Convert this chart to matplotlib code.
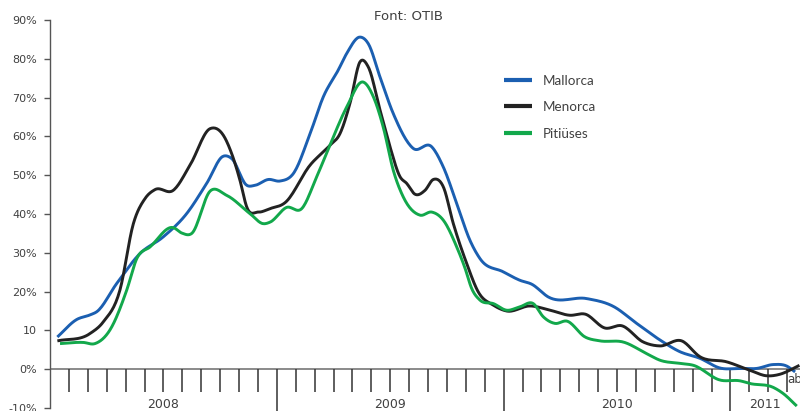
import numpy as np
import matplotlib
matplotlib.use('Agg')
import matplotlib.pyplot as plt

plt.rcParams['font.family'] = ['Lato', 'DejaVu Sans']

# months since January 2008, values in %
mallorca_x = [0.39, 1.41, 2.12, 2.47, 3.53, 4.76, 5.99, 7.23, 8.29, 9.17, 9.61, 10.41, 10.85,
              11.55, 12.17, 12.87, 13.76, 14.46, 15.25, 15.70, 16.40, 16.84, 17.46, 18.16,
              19.22, 20.20, 20.81, 21.52, 22.22, 22.75, 23.98, 24.87, 25.49, 26.37, 28.40,
              29.80, 31.04, 32.28, 33.33, 34.39, 35.45, 36.51, 37.39, 38.27, 38.98, 39.42]
mallorca_y = [8.3, 12.8, 14.0, 14.8, 22.1, 29.8, 34.1, 40.1, 47.9, 54.9, 54.3, 47.4, 47.4,
              48.9, 48.5, 50.4, 60.7, 70.2, 77.1, 81.4, 85.6, 83.9, 75.3, 65.9,
              56.9, 57.3, 52.1, 42.7, 33.2, 28.5, 25.1, 22.9, 21.9, 18.6, 18.2,
              16.2, 11.8, 7.5, 4.5, 2.8, 0.3, 0.2, 0.2, 1.2, 0.8, -0.7]

menorca_x = [0.39, 2.12, 2.82, 3.70, 4.41, 5.03, 5.56, 6.52, 7.41, 8.47, 9.17, 9.61, 10.05,
             10.41, 11.02, 11.64, 12.43, 13.76, 14.81, 15.34, 15.87, 16.40, 16.84, 17.46,
             17.99, 18.52, 18.87, 19.31, 19.84, 20.28, 20.81, 21.34, 22.05, 22.66, 23.46,
             24.16, 25.40, 26.46, 27.51, 28.31, 29.37, 30.25, 31.39, 32.28, 33.42, 34.39,
             35.80, 37.04, 37.92, 38.62, 39.33, 39.65]
menorca_y = [7.3, 9.2, 12.2, 20.4, 37.5, 44.0, 46.3, 46.1, 52.6, 62.0, 60.3, 55.6, 48.7,
             41.8, 40.5, 41.4, 42.9, 52.6, 57.7, 60.7, 68.5, 79.2, 77.9, 66.8,
             57.3, 49.6, 47.9, 45.1, 46.1, 48.9, 47.0, 37.5, 27.2, 19.9, 16.5,
             15.0, 16.3, 15.2, 13.9, 14.2, 10.6, 11.2, 7.0, 6.0, 7.3, 3.2,
             1.9, -0.3, -1.7, -1.3, 0.2, 1.0]

pitiuses_x = [0.53, 1.76, 2.38, 3.17, 4.06, 4.59, 5.29, 6.52, 6.97, 7.50, 8.47, 9.35, 10.58,
              11.29, 11.64, 12.52, 13.32, 14.11, 14.99, 15.70, 16.58, 17.11, 17.63, 18.16,
              18.69, 19.58, 20.20, 20.81, 21.52, 21.96, 22.31, 22.75, 23.46, 24.16, 24.87,
              25.57, 26.10, 26.72, 27.34, 28.31, 29.10, 30.33, 31.57, 32.28, 33.33, 34.04,
              35.45, 36.51, 37.04, 38.27, 38.80, 39.51]
pitiuses_y = [6.6, 6.9, 6.6, 10.1, 20.4, 28.5, 31.5, 36.5, 35.1, 35.0, 45.9, 44.8, 40.1,
              37.5, 37.9, 41.7, 41.4, 49.6, 59.9, 67.6, 74.0, 70.2, 62.4, 51.3,
              44.4, 39.7, 40.5, 38.4, 31.5, 26.0, 20.8, 17.8, 16.9, 15.2, 16.1,
              16.9, 13.5, 11.8, 12.4, 8.3, 7.3, 7.0, 4.0, 2.3, 1.5, 1.0,
              -2.8, -3.0, -3.7, -4.7, -6.3, -9.5]

years = ['2008', '2009', '2010', '2011']
ytick_vals = [-10, 0, 10, 20, 30, 40, 50, 60, 70, 80, 90]
ytick_labels = ['-10%', '0%', '10', '20%', '30%', '40%', '50%', '60%', '70%', '80%', '90%']


def smooth(x, y, n=16):
    # cubic hermite through the points, just for a soft line
    x = np.asarray(x, float)
    y = np.asarray(y, float)
    h = np.diff(x)
    d = np.diff(y) / h
    m = np.empty_like(y)
    m[1:-1] = (d[:-1] * h[1:] + d[1:] * h[:-1]) / (h[:-1] + h[1:])
    m[0], m[-1] = d[0], d[-1]
    t = np.linspace(0, 1, n, endpoint=False)
    h00 = 2 * t**3 - 3 * t**2 + 1
    h10 = t**3 - 2 * t**2 + t
    h01 = -2 * t**3 + 3 * t**2
    h11 = t**3 - t**2
    xs, ys = [], []
    for i in range(len(x) - 1):
        xs.append(x[i] + t * h[i])
        ys.append(h00 * y[i] + h10 * h[i] * m[i] + h01 * y[i + 1] + h11 * h[i] * m[i + 1])
    xs.append([x[-1]])
    ys.append([y[-1]])
    return np.concatenate(xs), np.concatenate(ys)


fig = plt.figure(figsize=(8, 4.11), dpi=100)
ax = fig.add_axes([0.0625, 0.0073, 0.9375, 0.944])

series = [('Mallorca', mallorca_x, mallorca_y, '#1b5fb1'),
          ('Menorca', menorca_x, menorca_y, '#222222'),
          ('Pitiüses', pitiuses_x, pitiuses_y, '#12a84b')]
for name, xv, yv, col in series:
    sx, sy = smooth(xv, yv)
    ax.plot(sx, sy, color=col, lw=2.1, label=name, solid_capstyle='butt', clip_on=False)

ax.set_xlim(0, 39.68)
ax.set_ylim(-10, 90)

for s in ['top', 'right', 'bottom']:
    ax.spines[s].set_visible(False)
ax.spines['left'].set_color('#555555')
ax.spines['left'].set_linewidth(1.0)

ax.set_xticks([])
ax.set_yticks(ytick_vals)
ax.set_yticklabels(ytick_labels)
ax.tick_params(axis='y', length=4, width=1.0, color='#555555', pad=5.5,
               labelsize=8, labelcolor='#404040')
for lab in ax.get_yticklabels():
    lab.set_fontfamily(['DejaVu Sans'])

# zero line and month ticks
ax.axhline(0, color='#777777', lw=1.2, zorder=1)
months = np.arange(1, 40)
short = [m for m in months if m % 12 != 0]
ax.vlines(short, -5.9, 0, color='#333333', lw=1.1, zorder=1)
ax.vlines([12, 24, 36], -11, 0, color='#333333', lw=1.1, zorder=1, clip_on=False)

# year labels
year_pos = [6, 18, 30, 37.85]
for yr, xp in zip(years, year_pos):
    ax.text(xp, -9.2, yr, ha='center', va='center', fontsize=9, color='#404040',
            family=['DejaVu Sans'])
ax.text(39.0, -2.6, 'abr', ha='left', va='center', fontsize=8.5, color='#404040',
        family=['DejaVu Sans'], clip_on=False)

fig.text(0.511, 0.961, 'Font: OTIB', ha='center', va='center', fontsize=9.5,
         color='#404040', family=['DejaVu Sans'])

leg = ax.legend(loc='upper left', bbox_to_anchor=(504 / 800, 1 - 74.5 / 411),
                bbox_transform=fig.transFigure, frameon=False, fontsize=9.7,
                handlelength=2.1, handletextpad=0.75, labelspacing=1.08,
                borderpad=0, borderaxespad=0)
for t in leg.get_texts():
    t.set_color('#404040')
for l in leg.get_lines():
    l.set_linewidth(3)

fig.savefig('out.png', dpi=100)
